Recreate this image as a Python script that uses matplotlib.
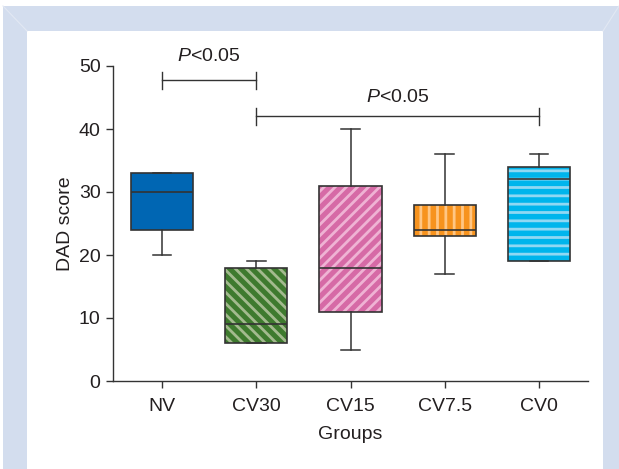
import matplotlib
matplotlib.use("Agg")
import matplotlib.pyplot as plt
from matplotlib.patches import Rectangle, PathPatch
from matplotlib.lines import Line2D

plt.rcParams['font.family'] = ['Liberation Sans', 'DejaVu Sans']
plt.rcParams['mathtext.fontset'] = 'custom'
plt.rcParams['mathtext.it'] = 'Liberation Sans:italic'
plt.rcParams['mathtext.rm'] = 'Liberation Sans'
plt.rcParams['hatch.linewidth'] = 2.0

# box summary values (DAD score)
groups = ["NV", "CV30", "CV15", "CV7.5", "CV0"]
whisker_low = [20, 6, 5, 17, 19]
q1 = [24, 6, 11, 23, 19]
median = [30, 9, 18, 24, 32]
q3 = [33, 18, 31, 28, 34]
whisker_high = [33, 19, 40, 36, 36]

# significance brackets: (from group, to group, height, label height)
brackets = [(0, 1, 47.7, 51.5), (1, 4, 42.0, 45.0)]
sig_label = r"$\it{P}$<0.05"

face_colors = ["#0066b3", "#3e7a2e", "#d66aa6", "#f7931e", "#00b5ec"]
stripe_colors = [None, "#a3ba8e", "#efb3d4", "#ffc684", "#90d8f3"]
hatches = [None, "\\\\\\", "///", "||", "--"]
dark = "#333333"
text_col = "#231f20"
FS = 14

fig = plt.figure(figsize=(6.19, 4.69), dpi=100)
W, H = 619, 469

# light blue frame around the panel
fig.add_artist(Rectangle((3 / W, 0), 1 - 3 / W, (H - 6) / H, transform=fig.transFigure,
                         facecolor="#d3ddee", edgecolor="none", zorder=-10))
fig.add_artist(Rectangle((27 / W, 0), (603 - 27) / W, (H - 31) / H, transform=fig.transFigure,
                         facecolor="white", edgecolor="none", zorder=-9))
fig.add_artist(Line2D([3 / W, 27 / W], [(H - 6) / H, (H - 31) / H], transform=fig.transFigure,
                      color="#e2e8f3", lw=0.8, zorder=-8))
fig.add_artist(Line2D([1, 603 / W], [(H - 6) / H, (H - 31) / H], transform=fig.transFigure,
                      color="#e2e8f3", lw=0.8, zorder=-8))

ax = fig.add_axes([113 / W, 88 / H, (588 - 113) / W, (381 - 66) / H])
ax.set_facecolor("none")

stats = []
for i, g in enumerate(groups):
    stats.append(dict(label=g, whislo=whisker_low[i], q1=q1[i], med=median[i],
                      q3=q3[i], whishi=whisker_high[i], fliers=[]))

pos = list(range(len(groups)))
bp = ax.bxp(stats, positions=pos, widths=0.66, capwidths=0.2, patch_artist=True,
            showfliers=False,
            boxprops=dict(linewidth=0),
            medianprops=dict(color=dark, linewidth=1.2),
            whiskerprops=dict(color=dark, linewidth=1.1),
            capprops=dict(color=dark, linewidth=1.1))

for i, box in enumerate(bp["boxes"]):
    box.set_facecolor(face_colors[i])
    if hatches[i]:
        box.set_edgecolor(stripe_colors[i])
        box.set_hatch(hatches[i])
    else:
        box.set_edgecolor(face_colors[i])
    box.set_linewidth(0)
    ax.add_patch(PathPatch(box.get_path(), fill=False, edgecolor=dark, linewidth=1.2, zorder=2.5))

for m in bp["medians"]:
    m.set_zorder(3)

# brackets
for a, b, y, ty in brackets:
    ax.plot([a, b], [y, y], color=dark, lw=1.0, clip_on=False)
    ax.plot([a, a], [y - 1.4, y + 1.4], color=dark, lw=1.0, clip_on=False)
    ax.plot([b, b], [y - 1.4, y + 1.4], color=dark, lw=1.0, clip_on=False)
    ax.text((a + b) / 2, ty, sig_label, ha="center", va="center", fontsize=FS,
            color=text_col, clip_on=False)

ax.set_xlim(-0.52, 4.52)
ax.set_ylim(0, 50)
ax.set_yticks([0, 10, 20, 30, 40, 50])
ax.set_xticks(pos)
ax.set_xticklabels(groups)
ax.spines["top"].set_visible(False)
ax.spines["right"].set_visible(False)
for s in ["left", "bottom"]:
    ax.spines[s].set_color(dark)
    ax.spines[s].set_linewidth(1.0)
ax.tick_params(axis="both", direction="out", length=5, width=1.0, color=dark,
               labelsize=FS, labelcolor=text_col, pad=4)
ax.tick_params(axis="x", pad=7)
ax.set_xlabel("Groups", fontsize=FS, color=text_col, labelpad=8)
ax.set_ylabel("DAD score", fontsize=FS, color=text_col, labelpad=3)

fig.savefig("out.png", dpi=100)
